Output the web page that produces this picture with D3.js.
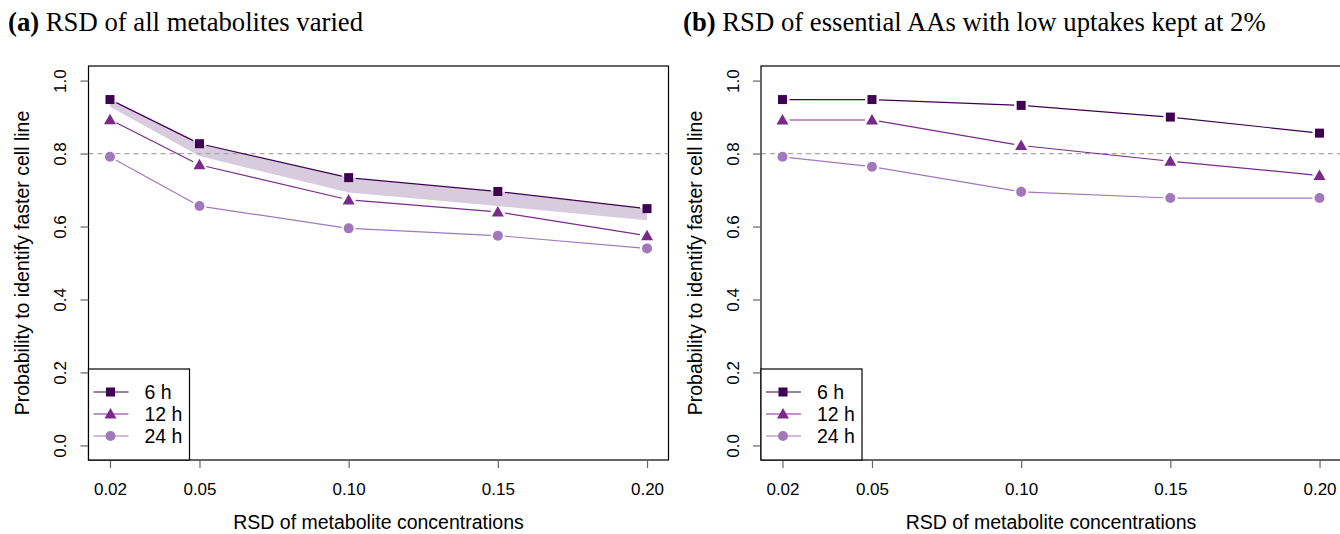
<!DOCTYPE html>
<html><head><meta charset="utf-8">
<script src="https://cdn.jsdelivr.net/npm/d3@7"></script>
<style>body{margin:0;background:#fff}svg{display:block}</style>
</head><body><svg id="c" width="1340" height="534"></svg>
<script>
const rsd = [0.02, 0.05, 0.10, 0.15, 0.20];
const xTickLabels = ["0.02", "0.05", "0.10", "0.15", "0.20"];
const yTicks = [0, 0.2, 0.4, 0.6, 0.8, 1.0];
const seriesNames = ["6 h", "12 h", "24 h"];
const colors = ["#3f0052", "#7b2a8c", "#a278bd"];
// panel a
const a6 = [0.948, 0.827, 0.734, 0.696, 0.649];
const a12 = [0.893, 0.769, 0.673, 0.640, 0.575];
const a24 = [0.791, 0.656, 0.595, 0.575, 0.540];
const aBandLow = [0.928, 0.793, 0.693, 0.656, 0.617];
// panel b
const b6 = [0.948, 0.948, 0.932, 0.900, 0.856];
const b12 = [0.892, 0.892, 0.822, 0.779, 0.740];
const b24 = [0.791, 0.764, 0.695, 0.678, 0.678];
const threshold = 0.8;

const svg = d3.select("#c");
const sans = "'Liberation Sans', Arial, sans-serif";
const serif = "'Liberation Serif', 'Times New Roman', serif";

function panel(L, R, title, letter, series, band, tx) {
  const T = 66, B = 460;
  const x = d3.scaleLinear().domain([0.0128, 0.2072]).range([L, R]);
  const y = d3.scaleLinear().domain([-0.04, 1.04]).range([B, T]);
  const g = svg.append("g");
  // title
  const t = g.append("text").attr("x", tx).attr("y", 31).attr("font-family", serif).attr("font-size", 26.7).attr("fill", "#000");
  t.append("tspan").attr("font-weight", "bold").text("(" + letter + ")");
  t.append("tspan").text(" " + title);
  // band
  if (band) {
    const area = d3.area().x((d, i) => x(rsd[i])).y0((d, i) => y(band[i])).y1(d => y(d));
    g.append("path").datum(series[0]).attr("d", area).attr("fill", "#d8cbdd");
  }
  // threshold
  g.append("line").attr("x1", L).attr("x2", R).attr("y1", y(threshold)).attr("y2", y(threshold))
    .attr("stroke", "#a8a8a8").attr("stroke-width", 1.3).attr("stroke-dasharray", "5,4");
  // lines with gaps
  const gap = 7;
  series.forEach((vals, si) => {
    for (let i = 0; i < vals.length - 1; i++) {
      const x1 = x(rsd[i]), y1 = y(vals[i]), x2 = x(rsd[i + 1]), y2 = y(vals[i + 1]);
      const len = Math.hypot(x2 - x1, y2 - y1), ux = (x2 - x1) / len, uy = (y2 - y1) / len;
      g.append("line").attr("x1", x1 + ux * gap).attr("y1", y1 + uy * gap)
        .attr("x2", x2 - ux * gap).attr("y2", y2 - uy * gap)
        .attr("stroke", colors[si]).attr("stroke-width", 1.2);
    }
    vals.forEach((v, i) => marker(g, si, x(rsd[i]), y(v)));
  });
  // box
  g.append("rect").attr("x", L).attr("y", T).attr("width", R - L).attr("height", B - T)
    .attr("fill", "none").attr("stroke", "#000").attr("stroke-width", 1.2);
  // x axis
  const xa = g.append("g").attr("transform", `translate(0,${B})`)
    .call(d3.axisBottom(x).tickValues(rsd).tickFormat((d, i) => xTickLabels[i]).tickSize(8).tickSizeOuter(0));
  xa.select(".domain").remove();
  xa.selectAll("line").attr("stroke", "#666").attr("stroke-width", 1.2);
  xa.selectAll("text").attr("font-family", sans).attr("font-size", 17).attr("fill", "#000").attr("dy", "1.41em");
  // y axis
  const ya = g.append("g").attr("transform", `translate(${L},0)`)
    .call(d3.axisLeft(y).tickValues(yTicks).tickFormat(d3.format(".1f")).tickSize(8).tickSizeOuter(0));
  ya.select(".domain").remove();
  ya.selectAll("line").attr("stroke", "#666").attr("stroke-width", 1.2);
  ya.selectAll("text").attr("font-family", sans).attr("font-size", 17).attr("fill", "#000")
    .attr("text-anchor", "middle").attr("x", null)
    .attr("transform", "translate(-28,0) rotate(-90)").attr("dy", "0.35em");
  // axis titles
  g.append("text").attr("x", (L + R) / 2).attr("y", 529).attr("text-anchor", "middle")
    .attr("font-family", sans).attr("font-size", 19.5).text("RSD of metabolite concentrations");
  g.append("text").attr("transform", `translate(${L - 66},${(T + B) / 2}) rotate(-90)`).attr("text-anchor", "middle")
    .attr("dy", "0.35em").attr("font-family", sans).attr("font-size", 19.5).text("Probability to identify faster cell line");
  // legend
  const lg = g.append("g");
  lg.append("rect").attr("x", L).attr("y", 369).attr("width", 101).attr("height", B - 369)
    .attr("fill", "#fff").attr("stroke", "#000").attr("stroke-width", 1.2);
  seriesNames.forEach((n, i) => {
    const yy = 392 + i * 22;
    lg.append("line").attr("x1", L + 5).attr("x2", L + 40).attr("y1", yy).attr("y2", yy)
      .attr("stroke", colors[i]).attr("stroke-width", 1.2);
    marker(lg, i, L + 22, yy);
    lg.append("text").attr("x", L + 56).attr("y", yy).attr("dy", "0.36em")
      .attr("font-family", sans).attr("font-size", 19.5).text(n);
  });
}

function marker(g, si, cx, cy) {
  if (si === 0) {
    g.append("rect").attr("x", cx - 4.5).attr("y", cy - 4.5).attr("width", 9).attr("height", 9).attr("fill", colors[0]);
  } else if (si === 1) {
    g.append("path").attr("d", `M${cx},${cy - 6}L${cx + 6},${cy + 4.5}L${cx - 6},${cy + 4.5}Z`).attr("fill", colors[1]);
  } else {
    g.append("circle").attr("cx", cx).attr("cy", cy).attr("r", 5).attr("fill", colors[2]);
  }
}

panel(88.5, 668.5, "RSD of all metabolites varied", "a", [a6, a12, a24], aBandLow, 8);
panel(761, 1341, "RSD of essential AAs with low uptakes kept at 2%", "b", [b6, b12, b24], null, 683);
</script></body></html>
